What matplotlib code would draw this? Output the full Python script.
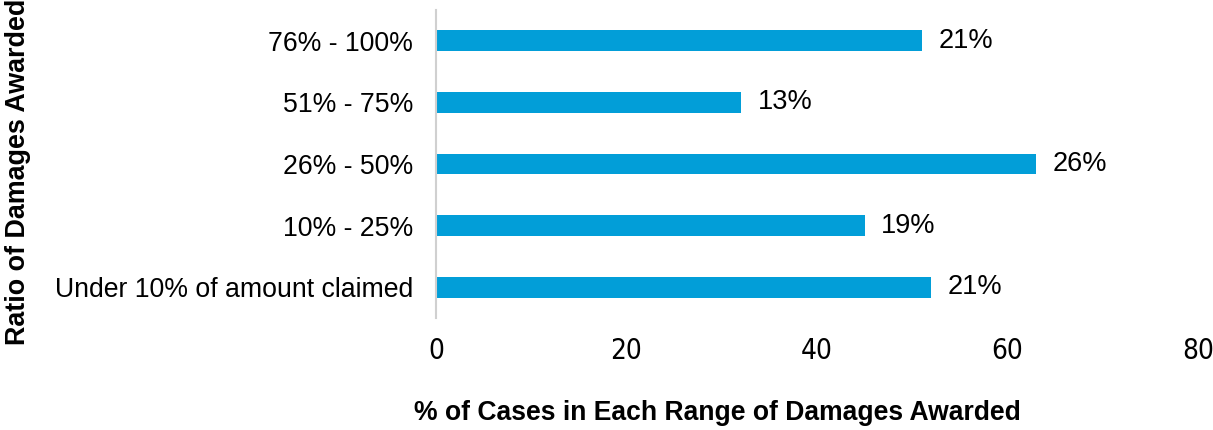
import matplotlib
matplotlib.use('Agg')
import matplotlib.pyplot as plt
import numpy as np

categories = ['Under 10% of amount claimed', '10% - 25%', '26% - 50%',
              '51% - 75%', '76% - 100%']
counts = [52, 45, 63, 32, 51]
labels = ['21%', '19%', '26%', '13%', '21%']

plt.rcParams['font.family'] = ['Liberation Sans', 'DejaVu Sans']

fig = plt.figure(figsize=(12.13, 4.30), dpi=100)
ax = fig.add_axes([436 / 1213, 1 - 318 / 430, (1198 - 436) / 1213, 308 / 430])

y = np.arange(len(categories))
bars = ax.barh(y, counts, height=0.34, color='#029ED8')

for rect, lab in zip(bars, labels):
    ax.text(rect.get_width() + 1.75, rect.get_y() + rect.get_height() / 2, lab,
            va='center', ha='left', fontsize=19.5)

ax.set_xlim(0, 80)
ax.set_ylim(-0.5, 4.5)
ax.set_yticks(y)
ax.set_yticklabels(categories, fontsize=19.2)
ax.set_xticks([0, 20, 40, 60, 80])
ax.set_xticklabels(['0', '20', '40', '60', '80'],
                   family='DejaVu Sans', stretch='condensed', fontsize=20)
ax.tick_params(axis='both', length=0)
ax.tick_params(axis='x', pad=14)
ax.tick_params(axis='y', pad=16.5)

for side in ['top', 'right', 'bottom']:
    ax.spines[side].set_visible(False)
ax.spines['left'].set_color('#d0d0d0')
ax.spines['left'].set_linewidth(1.5)

fig.text(717 / 1213, 1 - 413 / 430,
         '% of Cases in Each Range of Damages Awarded',
         ha='center', va='center', fontsize=19.1, fontweight='bold')
fig.text(18 / 1213, 1 - 172 / 430, 'Ratio of Damages Awarded',
         rotation=90, ha='center', va='center', fontsize=19.4,
         fontweight='bold')

fig.savefig('out.png', dpi=100)
